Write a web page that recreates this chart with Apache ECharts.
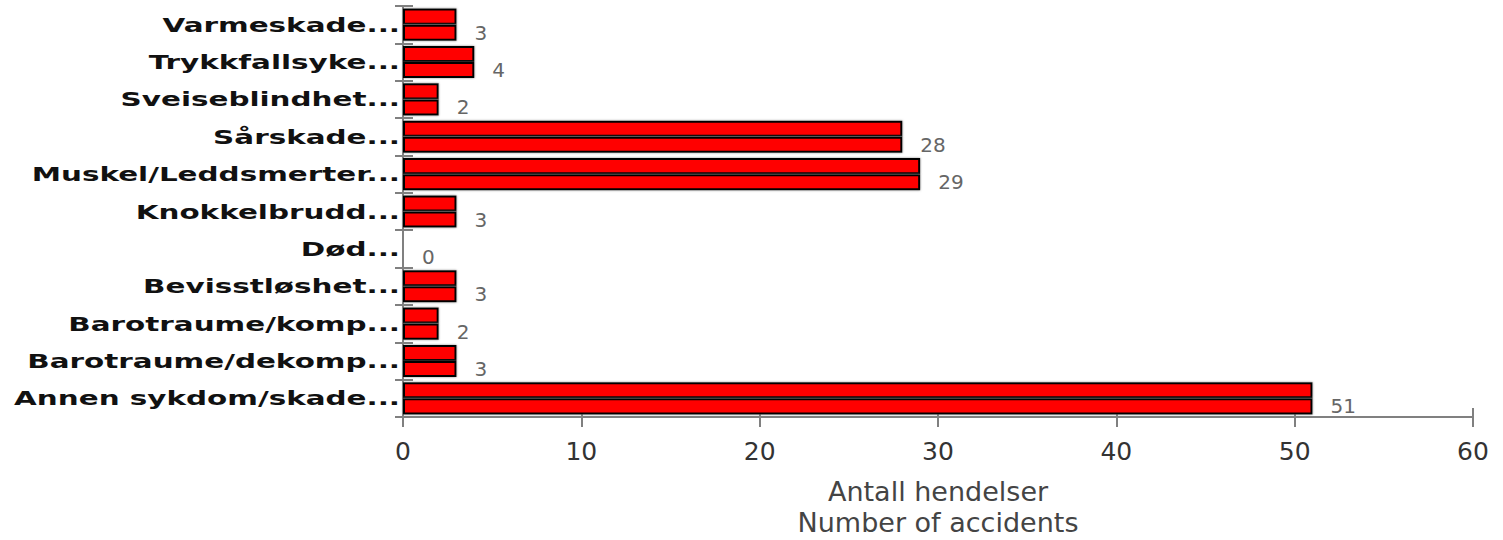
<!DOCTYPE html>
<html>
<head>
<meta charset="utf-8">
<script src="https://cdn.jsdelivr.net/npm/echarts@6/dist/echarts.min.js"></script>
<style>
html,body{margin:0;padding:0;background:#fff;}
#c{width:1503px;height:540px;}
</style>
</head>
<body>
<div id="c"></div>
<script>
// Data (top to bottom as shown)
const categories = [
  "Varmeskade...",
  "Trykkfallsyke...",
  "Sveiseblindhet...",
  "Sårskade...",
  "Muskel/Leddsmerter...",
  "Knokkelbrudd...",
  "Død...",
  "Bevisstløshet...",
  "Barotraume/komp...",
  "Barotraume/dekomp...",
  "Annen sykdom/skade..."
];
const values = [3, 4, 2, 28, 29, 3, 0, 3, 2, 3, 51];
const xTicks = [0, 10, 20, 30, 40, 50, 60];
const axisTitle = "Antall hendelser\nNumber of accidents";

const chart = echarts.init(document.getElementById('c'), null, { renderer: 'svg' });
const barStyle = {
  color: '#ff0000',
  borderColor: '#000',
  borderWidth: 2,
  shadowColor: 'rgba(128,128,128,0.9)',
  shadowBlur: 2
};
chart.setOption({
  animation: false,
  grid: { left: 403, right: 30, top: 6, bottom: 123, containLabel: false, outerBoundsMode: 'none' },
  xAxis: [{
    type: 'value', min: xTicks[0], max: xTicks[xTicks.length - 1], interval: 10,
    axisLine: { show: true, lineStyle: { color: '#808080', width: 2 } },
    axisTick: { show: true, length: 10, lineStyle: { color: '#808080', width: 2 } },
    splitLine: { show: false },
    axisLabel: { margin: 22, fontSize: 25, color: '#333', fontFamily: 'DejaVu Sans' },
    name: axisTitle, nameLocation: 'middle', nameGap: 59,
    nameTextStyle: { fontSize: 27, color: '#444', fontFamily: 'DejaVu Sans', lineHeight: 31 }
  }, {
    type: 'value', min: 0, max: 60, interval: 10, position: 'bottom',
    axisLine: { show: false },
    axisTick: { show: true, inside: true, length: 9, lineStyle: { color: '#808080', width: 2 } },
    axisLabel: { show: false }, splitLine: { show: false }
  }],
  yAxis: [{
    type: 'category', data: categories, inverse: true,
    axisLine: { show: true, lineStyle: { color: '#808080', width: 2 } },
    axisTick: { show: true, length: 8, lineStyle: { color: '#808080', width: 2 } },
    axisLabel: { margin: 3, fontSize: 20, fontWeight: 'bold', color: '#111', fontFamily: 'DejaVu Sans' }
  }, {
    type: 'category', data: categories, inverse: true, position: 'left',
    axisLine: { show: false },
    axisTick: { show: true, inside: true, length: 10, lineStyle: { color: '#808080', width: 2 } },
    axisLabel: { show: false }
  }],
  series: [{
    type: 'bar', data: values, barGap: '0%', barCategoryGap: '14%',
    itemStyle: barStyle, label: { show: false }
  }, {
    type: 'bar', data: values, barGap: '0%', barCategoryGap: '14%',
    itemStyle: barStyle,
    label: { show: true, position: 'right', distance: 18, fontSize: 20, color: '#666', fontFamily: 'DejaVu Sans' }
  }]
});

// The reference's category labels are drawn horizontally stretched; widen them.
function stretchLabels() {
  const texts = document.querySelectorAll('#c svg text');
  texts.forEach(function (t) {
    if (categories.indexOf(t.textContent) >= 0 && !t.getAttribute('textLength')) {
      const w = t.getComputedTextLength();
      t.setAttribute('lengthAdjust', 'spacingAndGlyphs');
      t.setAttribute('textLength', (w * 1.47).toFixed(1));
    }
  });
}
stretchLabels();
chart.on('finished', stretchLabels);
</script>
</body>
</html>
